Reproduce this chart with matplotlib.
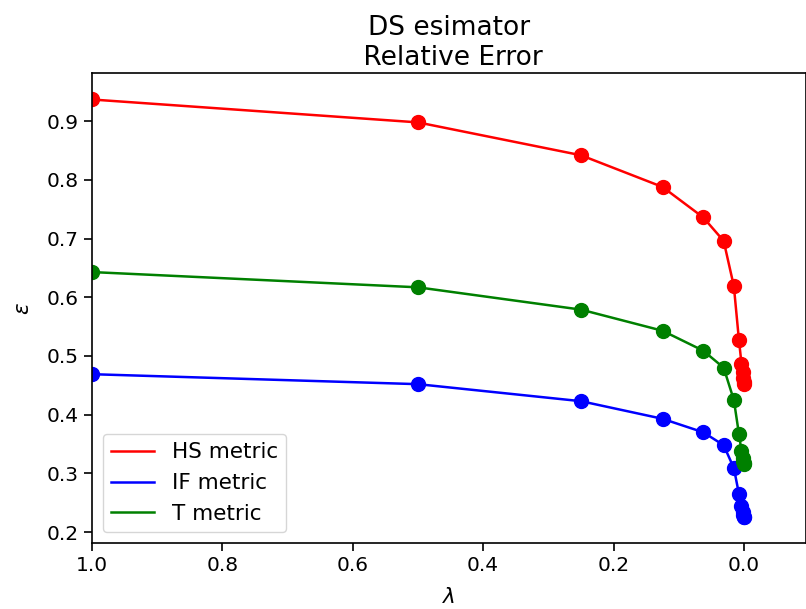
import matplotlib
matplotlib.use("Agg")
import matplotlib.pyplot as plt

lam = [1.0, 0.5, 0.25, 0.125, 0.0625, 0.03125, 0.015625, 0.0078125,
       0.00390625, 0.001953125, 0.0009765625, 0.00048828125, 0.000244140625]
hs = [0.937, 0.898, 0.842, 0.788, 0.736, 0.696, 0.619, 0.527,
      0.487, 0.472, 0.462, 0.456, 0.453]
if_ = [0.469, 0.452, 0.423, 0.393, 0.370, 0.348, 0.309, 0.265,
       0.244, 0.234, 0.229, 0.226, 0.225]
tm = [0.643, 0.617, 0.579, 0.543, 0.509, 0.480, 0.425, 0.367,
      0.338, 0.327, 0.321, 0.318, 0.316]

fig = plt.figure(figsize=(8.06, 6.09), dpi=100)
ax = fig.add_axes([0.114, 0.108, 0.886, 0.772])
fs = 14.5
ax.plot(lam, hs, color='red', lw=1.8, marker='o', ms=10, label='HS metric')
ax.plot(lam, if_, color='blue', lw=1.8, marker='o', ms=10, label='IF metric')
ax.plot(lam, tm, color='green', lw=1.8, marker='o', ms=10, label='T metric')
ax.set_xlim(1.0, -0.095)
ax.set_ylim(0.181, 0.982)
ax.set_xticks([1.0, 0.8, 0.6, 0.4, 0.2, 0.0])
ax.set_yticks([0.2, 0.3, 0.4, 0.5, 0.6, 0.7, 0.8, 0.9])
ax.tick_params(labelsize=fs, length=6, width=1.2)
ax.set_xlabel(r'$\lambda$', fontsize=fs + 1, labelpad=8)
ax.set_ylabel(r'$\epsilon$', fontsize=fs + 1, labelpad=10)
ax.set_title('DS esimator\n Relative Error', fontsize=19, pad=6)
leg = ax.legend(loc='lower left', fontsize=15.5, handlelength=2.0)
for h in leg.legend_handles:
    h.set_marker('')
for s in ax.spines.values():
    s.set_linewidth(1.2)
fig.savefig('out.png', dpi=100)
